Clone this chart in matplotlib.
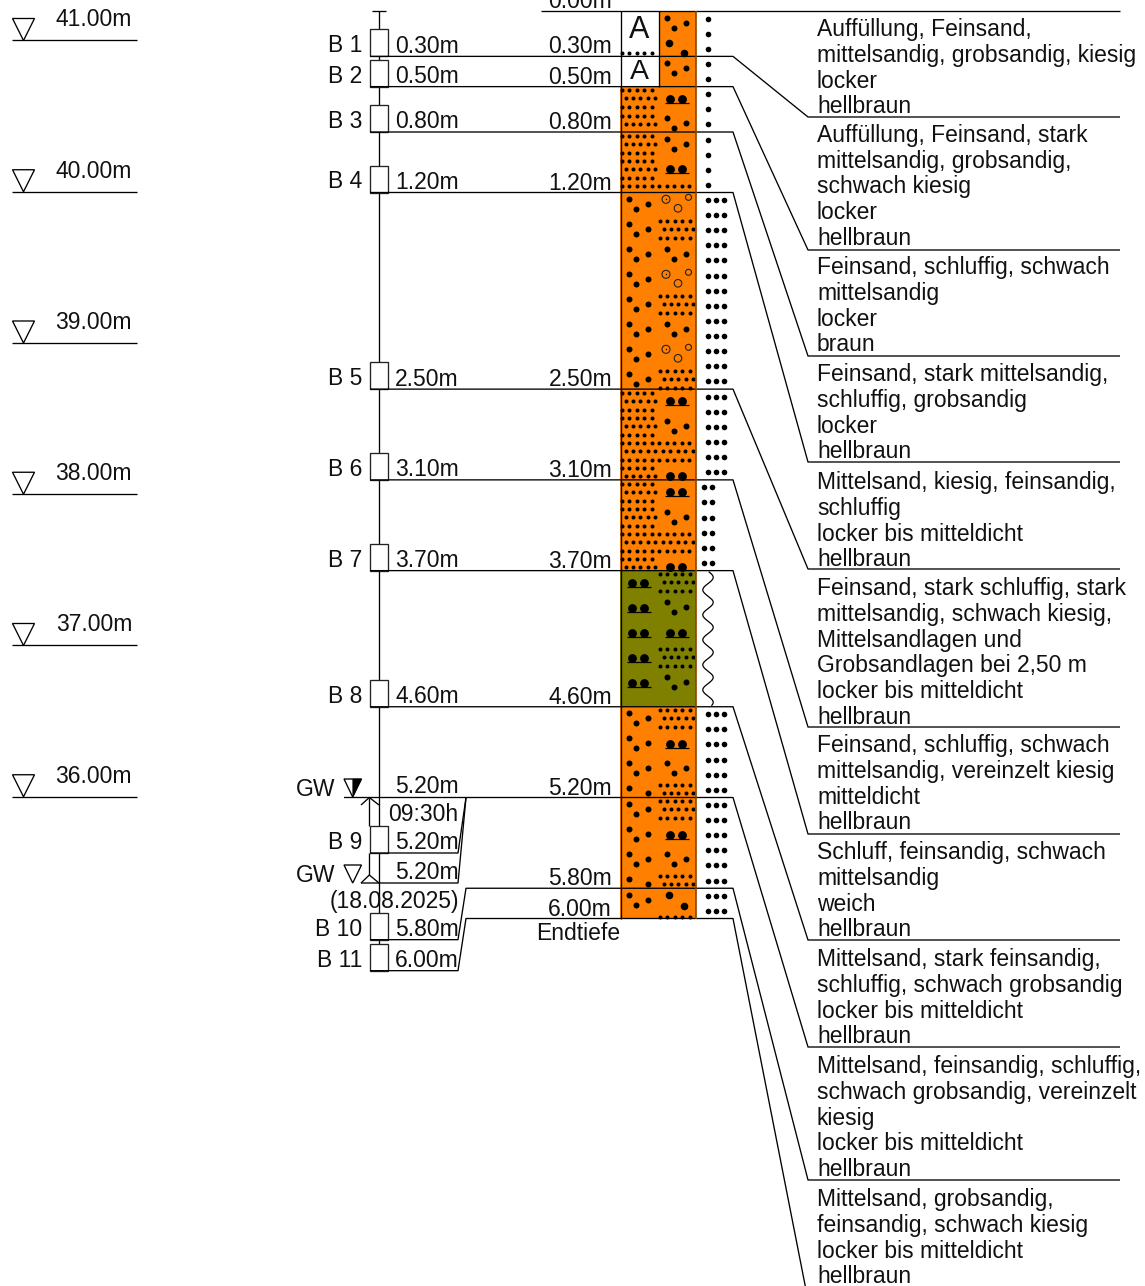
import numpy as np
import matplotlib.pyplot as plt
from matplotlib.patches import Rectangle, Polygon

W, H = 1145, 1286
plt.rcParams['font.family'] = ['Liberation Sans', 'DejaVu Sans']

# depth scale of the profile: pixels per metre and pixel of 0.00m
PX_M = 151.25
PX_0 = 11.0

# data
levels = [41.00, 40.00, 39.00, 38.00, 37.00, 36.00]
level_top = 41.195
depths = [0.30, 0.50, 0.80, 1.20, 2.50, 3.10, 3.70, 4.60, 5.20, 5.80, 6.00]
layer_tops = [0.00] + depths[:-1]
layer_cols = ['orange', 'orange', 'orange', 'orange', 'orange', 'orange', 'orange', 'olive', 'orange', 'orange', 'orange']
consistency = [1, 1, 1, 1, 3, 3, 2, 'wave', 3, 3, 3]
samples = ['B 1', 'B 2', 'B 3', 'B 4', 'B 5', 'B 6', 'B 7', 'B 8', 'B 9', 'B 10', 'B 11']
sample_depths = [0.30, 0.50, 0.80, 1.20, 2.50, 3.10, 3.70, 4.60, 5.565, 6.14, 6.345]
sample_labels = ['0.30m', '0.50m', '0.80m', '1.20m', '2.50m', '3.10m', '3.70m', '4.60m', '5.20m', '5.80m', '6.00m']
descriptions = [
    ['Auffüllung, Feinsand,', 'mittelsandig, grobsandig, kiesig', 'locker', 'hellbraun'],
    ['Auffüllung, Feinsand, stark', 'mittelsandig, grobsandig,', 'schwach kiesig', 'locker', 'hellbraun'],
    ['Feinsand, schluffig, schwach', 'mittelsandig', 'locker', 'braun'],
    ['Feinsand, stark mittelsandig,', 'schluffig, grobsandig', 'locker', 'hellbraun'],
    ['Mittelsand, kiesig, feinsandig,', 'schluffig', 'locker bis mitteldicht', 'hellbraun'],
    ['Feinsand, stark schluffig, stark', 'mittelsandig, schwach kiesig,', 'Mittelsandlagen und', 'Grobsandlagen bei 2,50 m', 'locker bis mitteldicht', 'hellbraun'],
    ['Feinsand, schluffig, schwach', 'mittelsandig, vereinzelt kiesig', 'mitteldicht', 'hellbraun'],
    ['Schluff, feinsandig, schwach', 'mittelsandig', 'weich', 'hellbraun'],
    ['Mittelsand, stark feinsandig,', 'schluffig, schwach grobsandig', 'locker bis mitteldicht', 'hellbraun'],
    ['Mittelsand, feinsandig, schluffig,', 'schwach grobsandig, vereinzelt', 'kiesig', 'locker bis mitteldicht', 'hellbraun'],
    ['Mittelsand, grobsandig,', 'feinsandig, schwach kiesig', 'locker bis mitteldicht', 'hellbraun'],
]
desc_ends = [117, 250, 356, 462, 569, 727, 834, 940, 1047, 1180, 1300]
desc_first = [28, 134, 266, 373, 481, 587, 744, 851, 958, 1065, 1198]


def Y(px):
    return (px - PX_0) / PX_M


fig = plt.figure(figsize=(W / 100, H / 100), dpi=100)
ax = fig.add_axes([0, 0, 1, 1])
ax.set_xlim(0, W)
ax.set_ylim(Y(H), Y(0))
ax.axis('off')

FS = 16.45
LW = 0.95


def line(xs, ys, color='black', lw=LW, z=4):
    ax.plot(xs, ys, color=color, lw=lw, solid_capstyle='butt', zorder=z)


def label(x, py, s, ha='right'):
    ax.text(x, Y(py + 1.5), s, ha=ha, va='center', fontsize=FS, color='#111111', zorder=6)


# elevation scale
for lv in levels:
    y = level_top - lv
    line([12, 137], [y, y])
    py = PX_0 + y * PX_M
    ax.add_patch(Polygon([(12.5, Y(py - 22)), (34.5, Y(py - 22)), (23.5, Y(py))], fill=False, ec='black', lw=LW))
    label(132, py - 22, f'{lv:.2f}m')


# symbols, dx and py in pixels
def dots(xs, pys, r=2.0):
    ax.scatter(xs, [Y(p) for p in pys], s=(2 * r * 0.72) ** 2, c='black', lw=0, zorder=3)


def fine_row(x0, py, offset=False, n=5):
    xs = [x0 + (3.5 if offset else 0) + 7.45 * i for i in range(n)]
    dots(xs, [py] * n, 2.0)


def fine_block(x0, py, n=5, rows=3):
    for i in range(rows):
        fine_row(x0, py + i * 8.35, i == 1, n)


def coarse(x0, py, keep=(0, 1, 2)):
    pts = [(x0, py), (x0 + 7, py + 10), (x0 + 18.5, py + 5)]
    for i in keep:
        dots([pts[i][0]], [pts[i][1]], 3.0)


def mud(x0, py, under=True):
    dots([x0, x0 + 12.3], [py, py], 4.4)
    if under:
        line([x0 - 5, x0 + 19], [Y(py + 4), Y(py + 4)], lw=0.9, z=3)


def rings(x0, py):
    for dx, dy, r, centre in [(0, 0, 4, True), (12, 9, 3.8, False), (22.5, -2, 3, False)]:
        ax.scatter([x0 + dx], [Y(py + dy)], s=(2 * r * 0.72) ** 2, facecolors='none', edgecolors='#222222', lw=0.8, zorder=3)
        if centre:
            dots([x0 + dx], [py + dy], 0.7)


# soil column
col_hex = {'orange': '#FF8000', 'olive': '#808000'}
for top, bot, c in zip(layer_tops, depths, layer_cols):
    ax.add_patch(Rectangle((620, top), 76, bot - top, fc=col_hex[c], ec='none', zorder=1))
ax.add_patch(Rectangle((620, 0), 38.5, depths[1], fc='white', ec='none', zorder=2))

LX, RX = 622, 660
CL, CR = 629, 667  # left edge dot of coarse motif per half
ML, MR = 632, 670

# layers 1 and 2
dots([LX + 7.45 * i for i in range(5)], [52.7] * 5, 2.0)
ax.text(639, Y(30.5), 'A', ha='center', va='center', fontsize=22, zorder=6, color='#111111')
ax.text(639, Y(72), 'A', ha='center', va='center', fontsize=20.5, zorder=6, color='#111111')
coarse(CR, 18)
dots([669, 684], [43, 53], 3.8)
coarse(CR, 63)
# layers 3 and 4
fine_block(LX, 90)
fine_row(LX, 115.7)
fine_row(LX, 124, True)
mud(MR, 99)
coarse(CR, 118)
fine_block(LX, 136)
fine_row(LX, 161)
fine_row(LX, 169, True)
fine_row(LX, 178)
fine_row(LX, 186, n=10)
coarse(CR, 139)
mud(MR, 169)
# layer 5
for k in range(8):
    coarse(CL, 199.3 + 25 * k)
for k in range(3):
    rings(666, 199.3 + 75 * k)
    fine_block(RX, 221 + 75 * k)
    if k < 2:
        coarse(CR, 249 + 75 * k)
# layer 6
for p in [393, 418]:
    fine_block(LX, p)
fine_block(LX, 443, n=10)
fine_row(LX, 468)
fine_row(LX, 476, True)
mud(MR, 401)
coarse(CR, 421)
mud(MR, 476, under=False)
# layer 7
for p in [484, 509]:
    fine_block(LX, p)
fine_block(LX, 534, n=10)
fine_row(LX, 559)
fine_row(LX, 567, True)
mud(MR, 492)
coarse(CR, 512)
mud(MR, 567, under=False)
# layer 8
for k in range(5):
    mud(ML, 582.7 + 25 * k)
for k in range(2):
    fine_block(RX, 574 + 75 * k)
    coarse(CR, 602 + 75 * k)
mud(MR, 632.7)
# layer 9
for k in range(3):
    coarse(CL, 713.3 + 25 * k)
coarse(CL, 788.3, keep=(0, 2))
fine_block(RX, 710)
mud(MR, 744)
coarse(CR, 763)
fine_block(RX, 785, rows=2)
# layer 10
for k in range(3):
    coarse(CL, 804 + 25 * k)
coarse(CL, 879, keep=(0, 2))
fine_block(RX, 801)
mud(MR, 835)
coarse(CR, 854)
fine_block(RX, 876, rows=2)
# layer 11
coarse(CL, 895)
dots([669, 684], [895, 905.5], 3.8)
fine_row(RX, 917)

# column outline
line([620.5, 620.5], [0, depths[-1]], z=5)
line([658.5, 658.5], [0, depths[1]], z=5)
line([696, 696], [0, depths[-1]], color='#8A4500', lw=1.2, z=5)

# consistency symbols
for top, bot, kind in zip(layer_tops, depths, consistency):
    p0, p1 = PX_0 + top * PX_M, PX_0 + bot * PX_M
    if kind == 'wave':
        ps = np.linspace(p0 + 1, p1 - 1, 200)
        xs = 708 + 5.2 * np.sin((ps - p0 - 0.5) * 2 * np.pi / 25)
        line(xs, [Y(p) for p in ps], lw=0.9)
        continue
    cx = {1: [708], 2: [704, 712], 3: [708, 716, 724]}[kind]
    ps = np.arange(p0 + 7.5, p1, 15.1)
    for x in cx:
        dots([x] * len(ps), ps, 2.8)

# borehole axis and sample boxes
line([379, 379], [0, Y(944)], z=2)
line([372, 386], [0, 0])
for s, d, lab in zip(samples, sample_depths, sample_labels):
    ax.add_patch(Rectangle((369.7, d - 27 / PX_M), 18.3, 27 / PX_M, fc='white', ec='#222222', lw=LW, zorder=3))
    py = PX_0 + d * PX_M
    label(362, py - 12, s)
    label(459, py - 11.5, lab)

# depth labels beside the column
for d in [0.00] + depths:
    label(612, PX_0 + d * PX_M - 11, f'{d:.2f}m')
label(620, 932, 'Endtiefe')

# leaders from layer boundaries to the descriptions
line([541, 1120], [0, 0])
for i, d in enumerate(depths):
    if d < 5.2:
        xs, ys = [370, 733], [d, d]
    elif d == 5.2:
        xs, ys = [344, 733], [d, d]
    else:
        xs, ys = [370, 458, 466, 733], [sample_depths[i], sample_depths[i], d, d]
    line(xs + [808, 1120], ys + [Y(desc_ends[i]), Y(desc_ends[i])])
    for j, s in enumerate(descriptions[i]):
        label(817, desc_first[i] + j * 25.75, s, ha='left')

# groundwater
d = depths[8]
for x0, b in [(370, Y(853)), (361, Y(883))]:
    line([x0, 458, 466], [b, b, d])
ax.add_patch(Polygon([(344, Y(779)), (361.5, Y(779)), (352.7, Y(797))], fill=False, ec='black', lw=LW, zorder=4))
ax.add_patch(Polygon([(352.7, Y(779)), (361.5, Y(779)), (352.7, Y(797))], fc='black', ec='black', lw=0.3, zorder=4))
ax.add_patch(Polygon([(344, Y(865)), (361.5, Y(865)), (352.7, Y(883))], fill=False, ec='black', lw=LW, zorder=4))
line([369.3, 369.3], [d, Y(826)], z=2)
line([369.3, 369.3], [Y(853), Y(875)], z=2)
line([361, 369.3, 379], [Y(805), d, Y(805)])
line([361, 369.3, 379], [Y(883), Y(875), Y(883)])
label(335, 788, 'GW')
label(335, 874, 'GW')
label(459, 785, '5.20m')
label(458, 813, '09:30h')
label(459, 871, '5.20m')
label(459, 900, '(18.08.2025)')

fig.savefig('out.png', dpi=100)
